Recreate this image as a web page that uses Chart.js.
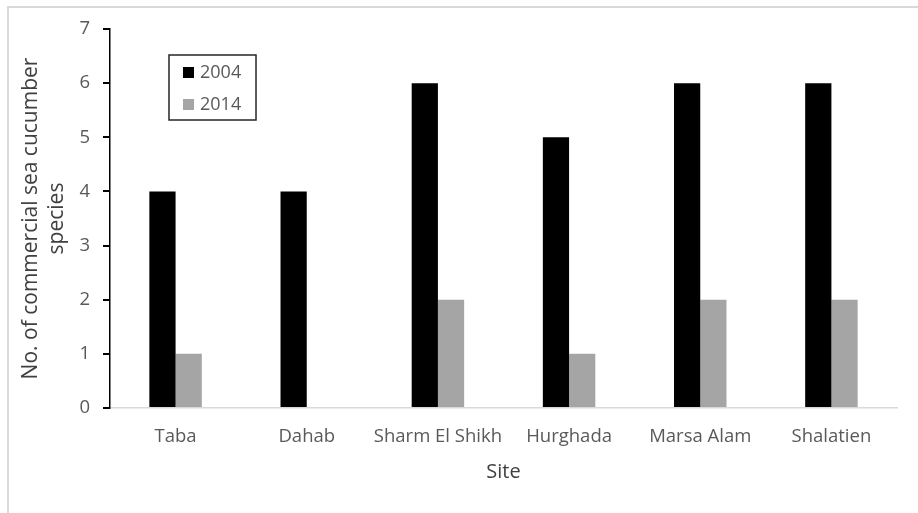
<!DOCTYPE html>
<html>
<head>
<meta charset="utf-8">
<script src="https://cdn.jsdelivr.net/npm/chart.js@4"></script>
<style>
  html, body { margin: 0; padding: 0; background: #fff; }
  #wrap { position: relative; width: 918px; height: 513px; }
</style>
</head>
<body>
<div id="wrap"><canvas id="chart" width="918" height="513"></canvas></div>
<script>
const sites = ['Taba', 'Dahab', 'Sharm El Shikh', 'Hurghada', 'Marsa Alam', 'Shalatien'];
const species2004 = [4, 4, 6, 5, 6, 6];
const species2014 = [1, 0, 2, 1, 2, 2];
const seriesNames = ['2004', '2014'];
const yTicks = [0, 1, 2, 3, 4, 5, 6, 7];

const textColor = '#595959';
const fontFamily = "'Open Sans', sans-serif";

// light frame round the chart, like the Excel chart border
const framePlugin = {
  id: 'frame',
  beforeDraw(chart) {
    const { ctx } = chart;
    ctx.save();
    ctx.strokeStyle = '#d9d9d9';
    ctx.lineWidth = 2;
    ctx.beginPath();
    ctx.moveTo(8, 513);
    ctx.lineTo(8, 7);
    ctx.lineTo(918, 7);
    ctx.stroke();
    ctx.restore();
  },
};

// boxed legend inside the plot area
const boxLegend = {
  id: 'boxLegend',
  afterDraw(chart) {
    const { ctx } = chart;
    const x = 169, y = 55, w = 87, h = 65;
    ctx.save();
    ctx.fillStyle = '#fff';
    ctx.fillRect(x, y, w, h);
    ctx.strokeStyle = '#262626';
    ctx.lineWidth = 1.5;
    ctx.strokeRect(x, y, w, h);
    ctx.font = '18px ' + fontFamily;
    ctx.textBaseline = 'middle';
    chart.data.datasets.forEach((ds, i) => {
      const cy = y + 18 + i * 32;
      ctx.fillStyle = ds.backgroundColor;
      ctx.fillRect(x + 14, cy - 6, 11, 11);
      ctx.fillStyle = textColor;
      ctx.fillText(ds.label, x + 31, cy);
    });
    ctx.restore();
  },
};

new Chart(document.getElementById('chart'), {
  type: 'bar',
  data: {
    labels: sites,
    datasets: [
      { label: seriesNames[0], data: species2004, backgroundColor: '#000000' },
      { label: seriesNames[1], data: species2014, backgroundColor: '#a5a5a5' },
    ],
  },
  options: {
    responsive: false,
    animation: false,
    layout: { padding: { top: 29, right: 21, left: 0, bottom: 0 } },
    datasets: { bar: { categoryPercentage: 0.4, barPercentage: 1.0 } },
    plugins: { legend: { display: false }, tooltip: { enabled: false } },
    scales: {
      x: {
        grid: { display: false, drawTicks: false },
        border: { color: '#d9d9d9', width: 1.5 },
        ticks: {
          color: textColor,
          font: { size: 18.5, family: fontFamily },
          padding: 18,
          autoSkip: false,
          maxRotation: 0,
          minRotation: 0,
        },
        title: {
          display: true,
          text: 'Site',
          color: '#404040',
          font: { size: 20, family: fontFamily },
          padding: { bottom: 29 },
        },
        afterFit(scale) { scale.height = 105; },
      },
      y: {
        min: 0,
        max: 7,
        afterBuildTicks(scale) { scale.ticks = yTicks.map(v => ({ value: v })); },
        grid: { drawOnChartArea: false, color: '#000', lineWidth: 2, tickLength: 7 },
        border: { color: '#000', width: 1.5 },
        ticks: { color: textColor, font: { size: 18.5, family: fontFamily }, padding: 13 },
        title: {
          display: true,
          text: ['No. of commercial sea cucumber', 'species'],
          color: '#404040',
          font: { size: 21, family: fontFamily, lineHeight: 1.24 },
          padding: { top: 18 },
        },
        afterFit(scale) { scale.width = 110; },
      },
    },
  },
  plugins: [framePlugin, boxLegend],
});
</script>
</body>
</html>
